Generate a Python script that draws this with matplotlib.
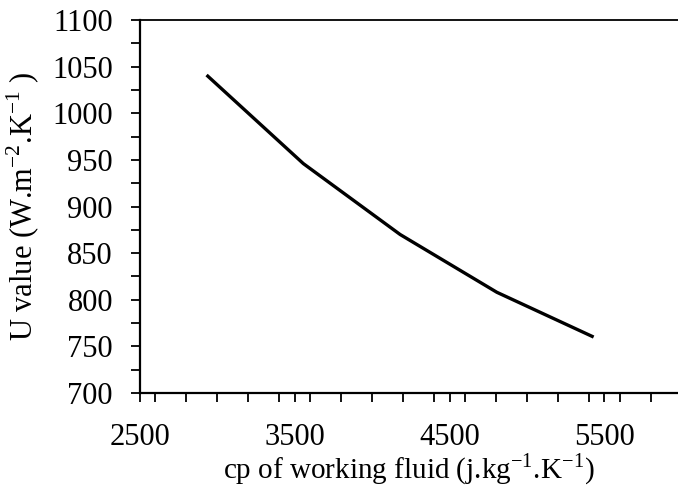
import matplotlib
matplotlib.use('Agg')
import matplotlib.pyplot as plt
from matplotlib.ticker import MultipleLocator, FixedLocator

# data
cp = [2930, 3555, 4180, 4805, 5430]
u_value = [1041, 946, 870, 808, 760]

plt.rcParams['font.family'] = 'Liberation Serif'
plt.rcParams['mathtext.fontset'] = 'custom'
plt.rcParams['mathtext.rm'] = 'Liberation Serif'

fig = plt.figure(figsize=(6.78, 4.95), dpi=100)
ax = fig.add_axes([140 / 678, 1 - 393 / 495, 1 - 140 / 678, 373 / 495])

ax.plot(cp, u_value, color='black', lw=2.4, solid_capstyle='butt')

ax.set_xlim(2500, 5975)
ax.set_ylim(700, 1100)
ax.xaxis.set_major_locator(FixedLocator([2500, 3500, 4500, 5500]))
ax.xaxis.set_minor_locator(MultipleLocator(200))
ax.yaxis.set_major_locator(MultipleLocator(50))
ax.yaxis.set_minor_locator(MultipleLocator(25))

ax.tick_params(which='both', direction='out', length=6.5, width=1.3, color='black')
ax.tick_params(axis='both', which='major', labelsize=22)
ax.tick_params(axis='x', which='major', pad=15)
ax.tick_params(axis='y', which='major', pad=13)

for s in ['left', 'bottom']:
    ax.spines[s].set_linewidth(1.6)
ax.spines['top'].set_linewidth(1.3)
ax.spines['right'].set_visible(False)

ax.set_xlabel(r'cp of working fluid (j.kg$^{\mathregular{-1}}$.K$^{\mathregular{-1}}$)', fontsize=21, labelpad=0)
ax.set_ylabel(r'U value (W.m$^{\mathregular{-2}}$.K$^{\mathregular{-1}}$ )', fontsize=22, labelpad=7)

fig.savefig('out.png', dpi=100)
